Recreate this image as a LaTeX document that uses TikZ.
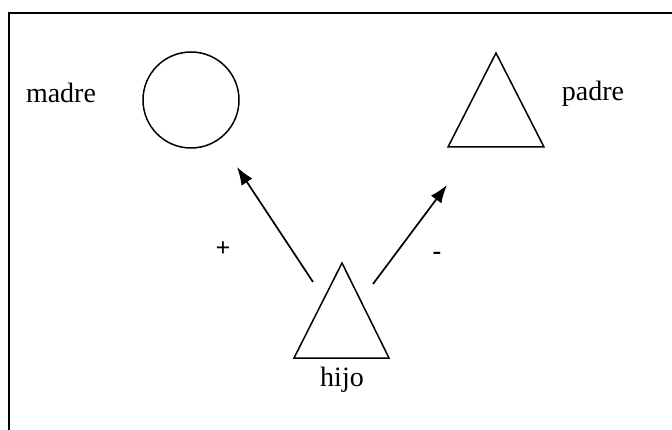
\documentclass[tikz,border=0pt]{standalone}
\usepackage{fontspec}
\setmainfont{Liberation Serif}
\usetikzlibrary{arrows.meta}
\begin{document}
\begin{tikzpicture}[x=1pt,y=-1pt,line width=1.5pt,
  lbl/.style={font=\fontsize{28}{30}\selectfont,inner sep=0pt},
  sgn/.style={font=\fontsize{26}{28}\selectfont\bfseries,inner sep=0pt},
  arr/.style={-{Latex[length=18pt,width=13pt]},line width=1.7pt},
  shp/.style={draw,line width=1.5pt,line join=miter}]
\useasboundingbox (0,0) rectangle (672,430);
% frame (top and left only)
\coordinate (fb) at (9,430);
\coordinate (fc) at (9,13);
\coordinate (fr) at (672,13);
\draw[line width=1.8pt] (fb) -- (fc) -- (fr);
% madre
\node[shp,circle,minimum size=96pt,inner sep=0pt] (madre) at (191,100) {};
\node[lbl,anchor=base] (madrelbl) at (61,103) {madre};
% padre
\coordinate (pA) at (496,53);
\coordinate (pL) at (448,147);
\coordinate (pR) at (544,147);
\draw[shp] (pA) -- (pL) -- (pR) -- cycle;
\node[lbl,anchor=base] (padrelbl) at (593,101) {padre};
% hijo
\coordinate (hA) at (342,263);
\coordinate (hL) at (294,358);
\coordinate (hR) at (389,358);
\draw[shp] (hA) -- (hL) -- (hR) -- cycle;
\node[lbl,anchor=base] (hijolbl) at (342,386) {hijo};
% arrows
\coordinate (a1s) at (313,282);
\coordinate (a1e) at (237,167);
\coordinate (a2s) at (373,284);
\coordinate (a2e) at (447,185);
\draw[arr] (a1s) -- (a1e);
\draw[arr] (a2s) -- (a2e);
\node[sgn] (plus) at (223,249) {+};
\node[sgn] (minus) at (437,256) {-};
\end{tikzpicture}
\end{document}
